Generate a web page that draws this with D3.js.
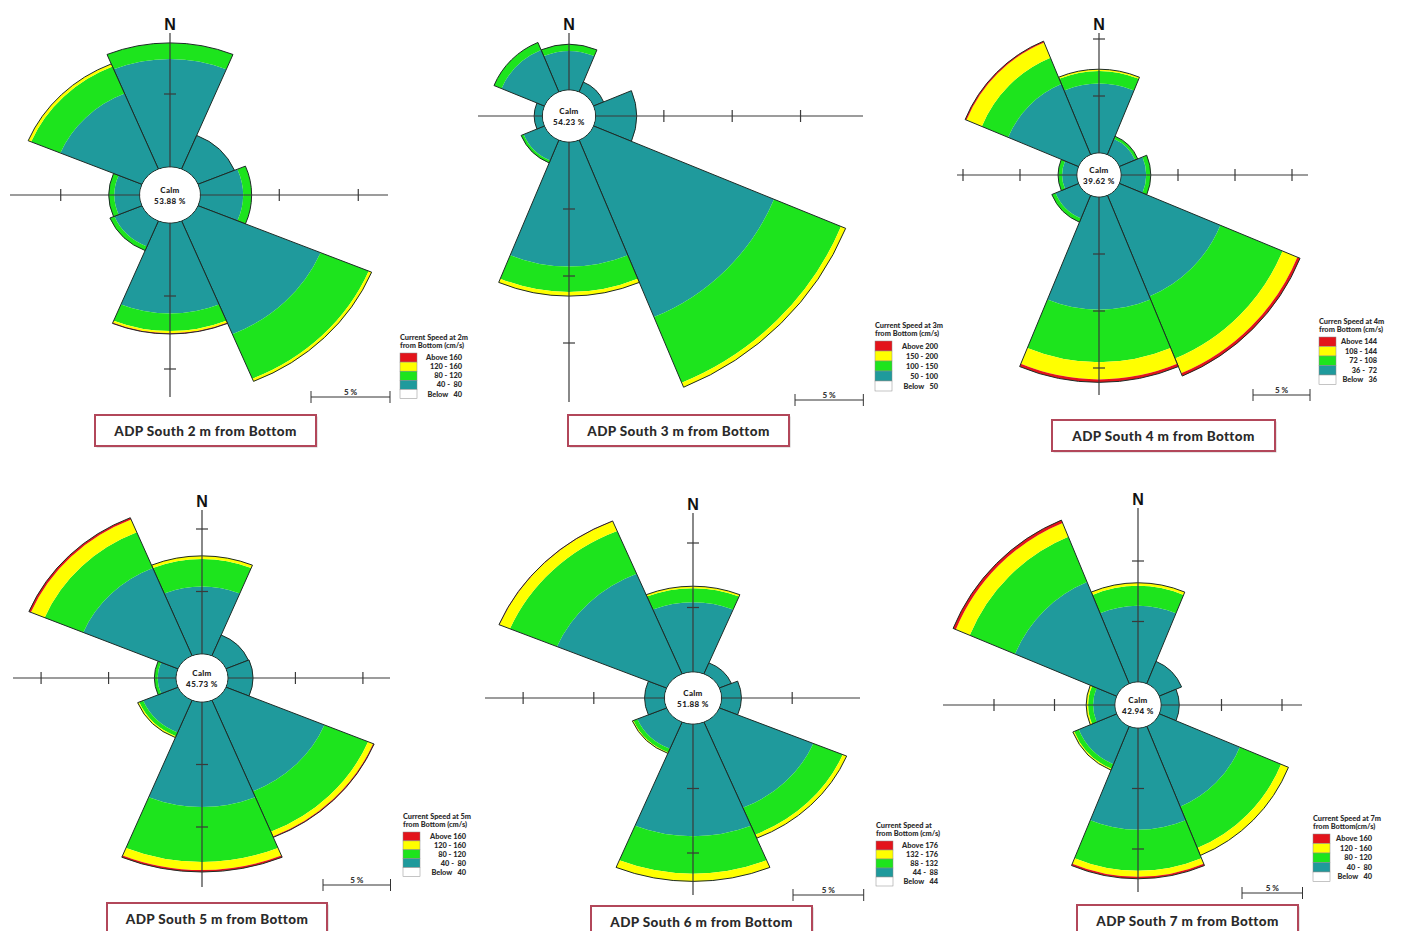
<!DOCTYPE html>
<html>
<head>
<meta charset="utf-8">
<script src="https://cdn.jsdelivr.net/npm/d3@7"></script>
<style>
  html, body { margin: 0; padding: 0; background: #ffffff; }
  svg { display: block; }
</style>
</head>
<body>
<svg id="chart" width="1403" height="931"></svg>
<script>
// Current roses, ADP South, 2 m to 7 m above the bottom.
// Direction sectors (clockwise from north)
const directions = ["N", "NE", "E", "SE", "S", "SW", "W", "NW"];
const depths = ["2 m", "3 m", "4 m", "5 m", "6 m", "7 m"];
const calmPct = [53.88, 54.23, 39.62, 45.73, 51.88, 42.94];

// Frequency (%) of each speed class per direction [class][direction]
// classes: 2nd bin, 3rd bin, 4th bin, top bin (lowest bin is counted as calm)
const rose2m = [
  [7.4, 2.5, 2.7, 8.4, 6.2, 1.9, 1.6, 5.6],
  [1.1, 0, 0.55, 3.3, 1.2, 0.3, 0.35, 2.0],
  [0, 0, 0, 0.2, 0.15, 0, 0, 0.2],
  [0, 0, 0, 0, 0.05, 0, 0, 0]
];
const rose3m = [
  [2.9, 0.8, 3.0, 14.3, 9.3, 1.65, 0.6, 3.4],
  [0.5, 0, 0, 5.3, 1.9, 0.2, 0, 0.6],
  [0, 0, 0, 0.37, 0.3, 0, 0, 0],
  [0, 0, 0, 0, 0, 0, 0, 0]
];
const rose4m = [
  [6.1, 1.5, 2.2, 9.6, 9.9, 2.2, 1.3, 6.7],
  [1.1, 0.25, 0.4, 5.9, 4.6, 0.35, 0.35, 2.5],
  [0.15, 0, 0, 1.4, 1.5, 0, 0, 1.45],
  [0, 0, 0, 0.26, 0.26, 0, 0, 0.13]
];
const rose5m = [
  [5.4, 1.8, 1.85, 7.9, 8.4, 2.8, 1.36, 7.6],
  [2.2, 0, 0, 3.5, 4.4, 0.32, 0.24, 3.1],
  [0.25, 0, 0, 0.4, 0.64, 0.12, 0, 1.1],
  [0, 0, 0, 0.08, 0.16, 0, 0, 0.16]
];
const rose6m = [
  [5.4, 0.93, 1.4, 7.2, 8.7, 2.25, 1.4, 8.4],
  [1.1, 0, 0, 2.25, 2.9, 0.3, 0, 3.6],
  [0.15, 0, 0, 0.3, 0.6, 0.08, 0, 0.8],
  [0, 0, 0, 0, 0, 0, 0, 0.04]
];
const rose7m = [
  [6.3, 2.0, 1.5, 7.2, 8.4, 3.4, 1.8, 9.1],
  [1.65, 0, 0, 3.7, 3.4, 0.41, 0.41, 4.05],
  [0.25, 0, 0, 0.66, 0.5, 0.12, 0.16, 1.24],
  [0, 0, 0, 0, 0.16, 0, 0, 0.25]
];

// Legend labels (top to bottom) for each depth
const bins2m = ["Above 160", "120 - 160", "80 - 120", "40 -  80", "Below   40"];
const bins3m = ["Above 200", "150 - 200", "100 - 150", "50 - 100", "Below   50"];
const bins4m = ["Above 144", "108 - 144", "72 - 108", "36 -  72", "Below   36"];
const bins5m = ["Above 160", "120 - 160", "80 - 120", "40 -  80", "Below   40"];
const bins6m = ["Above 176", "132 - 176", "88 - 132", "44 -  88", "Below   44"];
const bins7m = ["Above 160", "120 - 160", "80 - 120", "40 -  80", "Below   40"];

const legendTitles = [
  ["Current Speed at 2m", "from Bottom (cm/s)"],
  ["Current Speed at 3m", "from Bottom (cm/s)"],
  ["Curren Speed at 4m", "from Bottom (cm/s)"],
  ["Current Speed at 5m", "from Bottom (cm/s)"],
  ["Current Speed at", "from Bottom (cm/s)"],
  ["Current Speed at 7m", "from Bottom(cm/s)"]
];
const scaleStep = 5;            // % per axis tick / scale bar
const scaleLabel = "5 %";

// Colours: class fills from inner to outer ring, legend from top to bottom
const classColors = ["#1f9a9c", "#1de41d", "#ffff00", "#e3141b"];
const legendColors = ["#e3141b", "#ffff00", "#1de41d", "#1f9a9c", "#ffffff"];

// Placement of each rose on the sheet
const layout = [
  { cx: 170,  cy: 195, sx: 1.082, r0: 28, k: 14.6, ax: { t: 33,  b: 397, l: 10,  r: 388 },  lg: { x: 400,  y: 337, h: 9.1, w: 62 }, bar: { x: 311,  y: 397 }, box: { x: 95,   y: 415, w: 221, h: 31 } },
  { cx: 569,  cy: 116, sx: 1.02,  r0: 26, k: 13.4, ax: { t: 33,  b: 402, l: 478, r: 863 },  lg: { x: 875,  y: 325, h: 10,  w: 63 }, bar: { x: 795,  y: 400 }, box: { x: 568,  y: 415, w: 221, h: 31 } },
  { cx: 1099, cy: 175, sx: 1.0,   r0: 22, k: 11.4, ax: { t: 33,  b: 395, l: 957, r: 1308 }, lg: { x: 1319, y: 321, h: 9.5, w: 58 }, bar: { x: 1253, y: 395 }, box: { x: 1052, y: 420, w: 223, h: 31 } },
  { cx: 202,  cy: 678, sx: 1.08,  r0: 24, k: 12.5, ax: { t: 510, b: 887, l: 13,  r: 390 },  lg: { x: 403,  y: 816, h: 8.9, w: 63 }, bar: { x: 323,  y: 885 }, box: { x: 107,  y: 903, w: 220, h: 32 } },
  { cx: 693,  cy: 698, sx: 1.096, r0: 26, k: 12.9, ax: { t: 513, b: 895, l: 485, r: 860 },  lg: { x: 876,  y: 825, h: 9,   w: 62 }, bar: { x: 793,  y: 895 }, box: { x: 591,  y: 906, w: 221, h: 32 } },
  { cx: 1138, cy: 705, sx: 1.0,   r0: 23, k: 12.1, ax: { t: 508, b: 892, l: 943, r: 1302 }, lg: { x: 1313, y: 818, h: 9.5, w: 59 }, bar: { x: 1242, y: 893 }, box: { x: 1077, y: 905, w: 221, h: 32 } }
];

const roses = [rose2m, rose3m, rose4m, rose5m, rose6m, rose7m];
const binSets = [bins2m, bins3m, bins4m, bins5m, bins6m, bins7m];

const svg = d3.select("#chart");
const arc = d3.arc();
const rad = Math.PI / 180;
const font = "Lato, 'DejaVu Sans', sans-serif";

layout.forEach((p, pi) => {
  const rose = roses[pi];
  const g = svg.append("g");

  // radial scale: percentage -> distance from the centre, starting at the calm ring
  const r = d3.scaleLinear().domain([0, scaleStep]).range([p.r0, p.r0 + scaleStep * p.k]);

  const rg = g.append("g").attr("transform", `translate(${p.cx},${p.cy}) scale(${p.sx},1)`);

  // stacked petals
  const petals = directions.map((dir, i) => {
    let cum = 0;
    const bands = rose.map((series, c) => {
      const b = { c, inner: cum, outer: cum + series[i] };
      cum += series[i];
      return b;
    }).filter(b => b.outer > b.inner);
    return { dir, i, bands, total: cum, a0: (i * 45 - 22.5) * rad, a1: (i * 45 + 22.5) * rad };
  });

  const petalG = rg.selectAll("g.petal").data(petals).join("g").attr("class", "petal");
  petalG.selectAll("path.band")
    .data(d => d.bands.map(b => Object.assign({ a0: d.a0, a1: d.a1 }, b)))
    .join("path")
    .attr("class", "band")
    .attr("d", b => arc({ innerRadius: r(b.inner), outerRadius: r(b.outer), startAngle: b.a0, endAngle: b.a1 }))
    .attr("fill", b => classColors[b.c]);
  petalG.append("path")
    .attr("d", d => arc({ innerRadius: r(0), outerRadius: r(d.total), startAngle: d.a0, endAngle: d.a1 }))
    .attr("fill", "none")
    .attr("stroke", "#1d2b26")
    .attr("stroke-width", 1)
    .attr("vector-effect", "non-scaling-stroke");

  // compass axes with tick marks every scaleStep %
  const ext = { t: p.cy - p.ax.t, b: p.ax.b - p.cy, l: (p.cx - p.ax.l) / p.sx, r: (p.ax.r - p.cx) / p.sx };
  const axG = rg.append("g").attr("stroke", "#3a3a3a").attr("stroke-width", 1.2);
  axG.append("line").attr("x1", 0).attr("x2", 0).attr("y1", -ext.t).attr("y2", ext.b).attr("vector-effect", "non-scaling-stroke");
  axG.append("line").attr("y1", 0).attr("y2", 0).attr("x1", -ext.l).attr("x2", ext.r).attr("vector-effect", "non-scaling-stroke");
  const tickVals = d3.range(scaleStep, 60, scaleStep);
  const tk = 6;
  tickVals.filter(t => r(t) < ext.t - 2).forEach(t => axG.append("line").attr("x1", -tk / p.sx).attr("x2", tk / p.sx).attr("y1", -r(t)).attr("y2", -r(t)).attr("vector-effect", "non-scaling-stroke"));
  tickVals.filter(t => r(t) < ext.b - 2).forEach(t => axG.append("line").attr("x1", -tk / p.sx).attr("x2", tk / p.sx).attr("y1", r(t)).attr("y2", r(t)).attr("vector-effect", "non-scaling-stroke"));
  tickVals.filter(t => r(t) < ext.l - 2).forEach(t => axG.append("line").attr("y1", -tk).attr("y2", tk).attr("x1", -r(t)).attr("x2", -r(t)).attr("vector-effect", "non-scaling-stroke"));
  tickVals.filter(t => r(t) < ext.r - 2).forEach(t => axG.append("line").attr("y1", -tk).attr("y2", tk).attr("x1", r(t)).attr("x2", r(t)).attr("vector-effect", "non-scaling-stroke"));

  // calm disc
  rg.append("circle").attr("r", r(0) - 0.5).attr("fill", "#ffffff");

  g.append("text").attr("x", p.cx).attr("y", p.cy - 2)
    .attr("text-anchor", "middle").attr("font-family", font).attr("font-weight", 900)
    .attr("font-size", 8).attr("letter-spacing", 0.3).attr("fill", "#222").text("Calm");
  g.append("text").attr("x", p.cx).attr("y", p.cy + 9)
    .attr("text-anchor", "middle").attr("font-family", font).attr("font-weight", 900)
    .attr("font-size", 8).attr("letter-spacing", 0.4).attr("fill", "#222").text(calmPct[pi].toFixed(2) + " %");

  // north marker
  g.append("text").attr("x", p.cx).attr("y", p.ax.t - 3)
    .attr("text-anchor", "middle").attr("font-family", "'Liberation Sans', Arial, sans-serif")
    .attr("font-weight", 700).attr("font-size", 16).attr("fill", "#111").text("N");

  // legend
  const lg = g.append("g").attr("font-family", font).attr("font-weight", 900).attr("font-size", 7.4).attr("fill", "#2a2a2a");
  lg.append("text").attr("x", p.lg.x).attr("y", p.lg.y + 2.5).text(legendTitles[pi][0]);
  lg.append("text").attr("x", p.lg.x).attr("y", p.lg.y + 11.2).text(legendTitles[pi][1]);
  const sy = p.lg.y + 16;
  binSets[pi].forEach((lab, j) => {
    lg.append("rect").attr("x", p.lg.x).attr("y", sy + j * p.lg.h).attr("width", 17).attr("height", p.lg.h)
      .attr("fill", legendColors[j]).attr("stroke", "#8a8a8a").attr("stroke-width", 0.5);
    lg.append("text").attr("x", p.lg.x + p.lg.w).attr("y", sy + j * p.lg.h + p.lg.h / 2 + 2.6)
      .attr("text-anchor", "end").attr("xml:space", "preserve").style("white-space", "pre").text(lab);
  });

  // scale bar
  const barLen = (r(scaleStep) - r(0)) * p.sx;
  const bg = g.append("g").attr("stroke", "#333").attr("stroke-width", 1);
  bg.append("line").attr("x1", p.bar.x).attr("x2", p.bar.x + barLen).attr("y1", p.bar.y).attr("y2", p.bar.y);
  bg.append("line").attr("x1", p.bar.x).attr("x2", p.bar.x).attr("y1", p.bar.y - 6).attr("y2", p.bar.y + 6);
  bg.append("line").attr("x1", p.bar.x + barLen).attr("x2", p.bar.x + barLen).attr("y1", p.bar.y - 6).attr("y2", p.bar.y + 6);
  g.append("text").attr("x", p.bar.x + barLen / 2).attr("y", p.bar.y - 2.5)
    .attr("text-anchor", "middle").attr("font-family", font).attr("font-weight", 900)
    .attr("font-size", 8).attr("fill", "#333").text(scaleLabel);

  // caption box
  g.append("rect").attr("x", p.box.x + 1.5).attr("y", p.box.y + 1.5).attr("width", p.box.w).attr("height", p.box.h)
    .attr("fill", "#c9c9c9");
  g.append("rect").attr("x", p.box.x).attr("y", p.box.y).attr("width", p.box.w).attr("height", p.box.h)
    .attr("fill", "#ffffff").attr("stroke", "#b2475a").attr("stroke-width", 2);
  g.append("text").attr("x", p.box.x + p.box.w / 2).attr("y", p.box.y + p.box.h / 2 + 5)
    .attr("text-anchor", "middle").attr("font-family", font).attr("font-weight", 900)
    .attr("font-size", 13.5).attr("letter-spacing", 0.35).attr("fill", "#2a2a2a").text(`ADP South ${depths[pi]} from Bottom`);
});
</script>
</body>
</html>
